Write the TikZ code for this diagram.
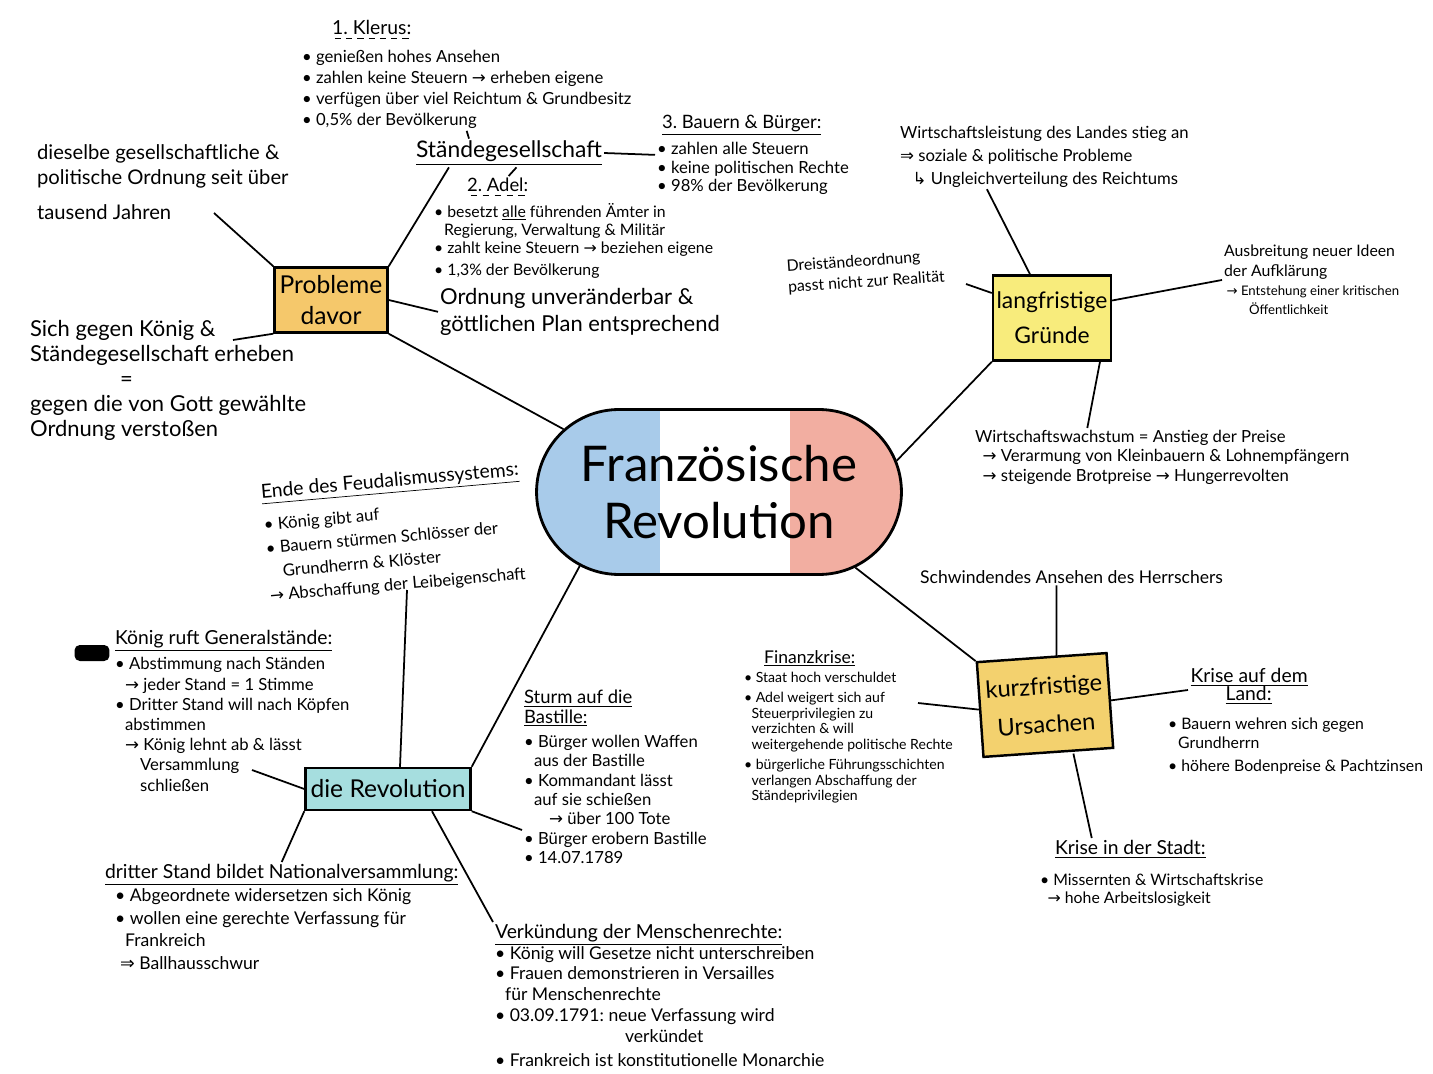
\documentclass[tikz,border=0pt]{standalone}
\usepackage{fontspec}
\setmainfont{Lato}
\newfontfamily\pfeilfont{DejaVu Sans}
\usepackage{tikz}
\usetikzlibrary{shapes,arrows,positioning}

\definecolor{flagblue}{HTML}{A8CBEA}
\definecolor{flagred}{HTML}{F2AEA1}
\definecolor{orangebox}{HTML}{F5C86B}
\definecolor{lemonbox}{HTML}{F8EC7C}
\definecolor{goldbox}{HTML}{F3D16E}
\definecolor{cyanbox}{HTML}{A6DEDF}

\frenchspacing
\newcommand{\schrift}[2]{\fontsize{#1}{#2}\selectfont}
\newcommand{\pfeil}{{\pfeilfont →}}
\newcommand{\Pfeil}{{\pfeilfont ⇒}}
\newcommand{\hpfeil}{{\pfeilfont ↳}}
\newcommand{\pkt}{\textbullet\ }
\newcommand{\dashunter}[1]{\setbox0=\hbox{#1}\leavevmode\rlap{\copy0}\raisebox{-2.5pt}{\hbox to \wd0{\xleaders\hbox to 6pt{\hss\rule{3.5pt}{0.6pt}\hss}\hfill}}}

\begin{document}
\begin{tikzpicture}[x=0.02cm,y=-0.02cm,main node/.style={draw, line width=1.4pt, align=center, inner sep=2pt},info node/.style={anchor=north west, align=left, inner sep=1pt}]
				\useasboundingbox (0,0) rectangle (1433,1074);
				
				\node[main node, rounded rectangle, line width=1.6pt, minimum width=7.44cm, minimum height=3.3cm, font=\schrift{28}{32},
				path picture={\fill[flagblue] (path picture bounding box.south west) rectangle ([xshift=-1.18cm]path picture bounding box.north);
				\fill[flagred] ([xshift=1.42cm]path picture bounding box.south) rectangle (path picture bounding box.north east);}] (1) at (719,492) {Französische\\Revolution};
				
				\node[main node, fill=orangebox, minimum width=2.26cm, minimum height=1.3cm, font=\schrift{14}{18}] (2) at (331,300) {Probleme\\davor};
				\node[font=\schrift{13}{15}, inner sep=1pt] (3) at (509,153) {\underline{Ständegesellschaft}};
				\node[info node, font=\schrift{9.5}{12}] (4) at (300,18) {\hspace{0.6cm}{\schrift{11}{13}\dashunter{1. Klerus:}}\\[4pt]
					\pkt genießen hohes Ansehen\\
					\pkt zahlen keine Steuern \pfeil\ erheben eigene\\
					\pkt verfügen über viel Reichtum \& Grundbesitz\\
					\pkt 0,5\% der Bevölkerung};
				\node[info node, font=\schrift{9}{10.4}] (5) at (432,176) {\hspace{0.66cm}{\schrift{10.5}{12}\dashunter{2. Adel:}}\\[3pt]
					\pkt besetzt \underline{alle} führenden Ämter in\\
					\hspace{0.2cm}Regierung, Verwaltung \& Militär\\
					\pkt zahlt keine Steuern \pfeil\ beziehen eigene\\[2pt]
					\pkt 1,3\% der Bevölkerung};
				\node[info node, font=\schrift{9.5}{10.5}] (6) at (655,113) {\hspace{0.1cm}{\schrift{10.5}{12}\underline{3. Bauern \& Bürger:}}\\[3pt]
					\pkt zahlen alle Steuern\\
					\pkt keine politischen Rechte\\
					\pkt 98\% der Bevölkerung};
				\node[info node, font=\schrift{12.5}{15.5}] (7) at (438,286) {Ordnung unveränderbar \&\\göttlichen Plan entsprechend};
				\node[info node, font=\schrift{11.5}{14}] (8) at (35,143) {dieselbe gesellschaftliche \&\\politische Ordnung seit über\\[6pt]tausend Jahren};
				\node[info node, font=\schrift{12.5}{14.2}] (9) at (28,318) {Sich gegen König \&\\Ständegesellschaft erheben\\\hspace{1.8cm}=\\gegen die von Gott gewählte\\Ordnung verstoßen};
				
				\node[main node, fill=lemonbox, minimum width=2.3cm, minimum height=1.7cm, font=\schrift{13}{20}] (10) at (1052,318) {langfristige\\Gründe};
				\node[info node, font=\schrift{9.5}{13}] (11) at (898,124) {Wirtschaftsleistung des Landes stieg an\\
					\Pfeil\ soziale \& politische Probleme\\
					\hspace{0.25cm}\hpfeil\ Ungleichverteilung des Reichtums};
				\node[info node, font=\schrift{9}{12}, rotate=4] (12) at (784,258) {Dreiständeordnung\\passt nicht zur Realität};
				\node[info node, font=\schrift{9}{11}] (13) at (1222,243) {Ausbreitung neuer Ideen\\der Aufklärung\\
					{\schrift{7.5}{9}\hspace{0.05cm}\pfeil\ Entstehung einer kritischen}\\
					{\schrift{7.5}{9}\hspace{0.5cm}Öffentlichkeit}};
				\node[info node, font=\schrift{9.5}{11}] (14) at (973,428) {Wirtschaftswachstum = Anstieg der Preise\\
					\hspace{0.15cm}\pfeil\ Verarmung von Kleinbauern \& Lohnempfängern\\
					\hspace{0.15cm}\pfeil\ steigende Brotpreise \pfeil\ Hungerrevolten};
				
				\node[main node, fill=goldbox, minimum width=2.6cm, minimum height=1.9cm, font=\schrift{13.5}{22}, rotate=4] (15) at (1045,705) {kurzfristige\\Ursachen};
				\node[info node, font=\schrift{10}{12}] (16) at (918,568) {Schwindendes Ansehen des Herrschers};
				\node[info node, font=\schrift{8}{8.8}] (17) at (742,648) {\hspace{0.4cm}{\schrift{10}{12}\underline{Finanzkrise:}}\\[2pt]
					\pkt Staat hoch verschuldet\\[3pt]
					\pkt Adel weigert sich auf\\
					\hspace{0.15cm}Steuerprivilegien zu\\
					\hspace{0.15cm}verzichten \& will\\
					\hspace{0.15cm}weitergehende politische Rechte\\[3pt]
					\pkt bürgerliche Führungsschichten\\
					\hspace{0.15cm}verlangen Abschaffung der\\
					\hspace{0.15cm}Ständeprivilegien};
				\node[info node, font=\schrift{9}{10.5}] (18) at (1166,666) {\hspace{0.45cm}{\schrift{11}{13}\underline{Krise auf dem}}\\
					\hspace{1.15cm}{\schrift{11}{13}\underline{Land:}}\\[6pt]
					\pkt Bauern wehren sich gegen\\
					\hspace{0.2cm}Grundherrn\\[3pt]
					\pkt höhere Bodenpreise \& Pachtzinsen};
				\node[info node, font=\schrift{9}{10}] (19) at (1038,838) {\hspace{0.3cm}{\schrift{11}{13}\underline{Krise in der Stadt:}}\\[8pt]
					\pkt Missernten \& Wirtschaftskrise\\
					\hspace{0.15cm}\pfeil\ hohe Arbeitslosigkeit};
				
				\node[main node, fill=cyanbox, minimum width=3.3cm, minimum height=0.84cm, font=\schrift{14}{17}] (20) at (388,789) {die Revolution};
				\node[info node, font=\schrift{9.5}{13.5}, rotate=5] (21) at (258,482) {{\schrift{11}{13}\underline{Ende des Feudalismussystems:}}\\[5pt]
					\pkt König gibt auf\\
					\pkt Bauern stürmen Schlösser der\\
					\hspace{0.3cm}Grundherrn \& Klöster\\
					\pfeil\ Abschaffung der Leibeigenschaft};
				\node[info node, font=\schrift{9.5}{11.5}] (22) at (113,628) {{\schrift{11}{13}\underline{König ruft Generalstände:}}\\[3pt]
					\pkt Abstimmung nach Ständen\\
					\hspace{0.2cm}\pfeil\ jeder Stand = 1 Stimme\\
					\pkt Dritter Stand will nach Köpfen\\
					\hspace{0.2cm}abstimmen\\
					\hspace{0.2cm}\pfeil\ König lehnt ab \& lässt\\
					\hspace{0.5cm}Versammlung\\
					\hspace{0.5cm}schließen};
				\node[fill=black, rounded corners=3pt, minimum width=0.7cm, minimum height=0.32cm, inner sep=0pt] (26) at (92,653) {};
				\node[info node, font=\schrift{9.5}{11}] (23) at (522,688) {{\schrift{10.5}{12}\underline{Sturm auf die}}\\
					{\schrift{10.5}{12}\underline{Bastille:}}\\[3pt]
					\pkt Bürger wollen Waffen\\
					\hspace{0.2cm}aus der Bastille\\
					\pkt Kommandant lässt\\
					\hspace{0.2cm}auf sie schießen\\
					\hspace{0.5cm}\pfeil\ über 100 Tote\\
					\pkt Bürger erobern Bastille\\
					\pkt 14.07.1789};
				\node[info node, font=\schrift{10}{13}] (24) at (103,862) {{\schrift{11}{13}\underline{dritter Stand bildet Nationalversammlung:}}\\
					\hspace{0.2cm}\pkt Abgeordnete widersetzen sich König\\
					\hspace{0.2cm}\pkt wollen eine gerechte Verfassung für\\
					\hspace{0.4cm}Frankreich\\
					\hspace{0.3cm}\Pfeil\ Ballhausschwur};
				\node[info node, font=\schrift{10}{11.8}] (25) at (493,922) {{\schrift{11}{13}\underline{Verkündung der Menschenrechte:}}\\
					\pkt König will Gesetze nicht unterschreiben\\
					\pkt Frauen demonstrieren in Versailles\\
					\hspace{0.2cm}für Menschenrechte\\
					\pkt 03.09.1791: neue Verfassung wird\\
					\hspace{2.6cm}verkündet\\[2pt]
					\pkt Frankreich ist konstitutionelle Monarchie};
				
				\coordinate (8e) at (214,213);
				\coordinate (9e) at (233,340);
				\coordinate (12e) at (966,284);
				\coordinate (17e) at (918,703);
				\coordinate (18e) at (1188,690);
				\coordinate (21e) at (407,590);
				\coordinate (22e) at (252,770);
				\coordinate (23e) at (522,830);
				
				\path[line width=1pt]
				(2.south east) edge (1.158)
				(2.north west) edge (8e)
				(2.south west) edge (9e)
				(2.north east) edge ([xshift=0.7cm]3.south west)
				(2.east) edge (7.west)
				(3.east) edge (6.west)
				([xshift=-0.8cm]3.north) edge (4.south)
				([xshift=0.15cm]3.south) edge ([xshift=-1.3cm]5.north)
				
				(10.south west) edge (1.10)
				([xshift=-0.44cm]10.north) edge ([xshift=-1.15cm]11.south)
				([yshift=0.5cm]10.west) edge (12e)
				([yshift=0.35cm]10.east) edge (13.west)
				([xshift=0.96cm]10.south) edge ([xshift=-1.5cm]14.north)
				
				(15.north west) edge (1.-29)
				([xshift=0.3cm]15.north) edge ([xshift=-0.3cm]16.south)
				(15.west) edge (17e)
				(15.east) edge (18e)
				([xshift=0.5cm]15.south) edge ([xshift=-1.2cm]19.north)
				
				(20.north east) edge (1.208)
				([xshift=0.24cm]20.north) edge (21e)
				(20.west) edge (22e)
				(20.south east) edge (23e)
				([xshift=0.88cm]20.south) edge (25.north west)
				(20.south west) edge (24.north);
				
\end{tikzpicture}
\end{document}
